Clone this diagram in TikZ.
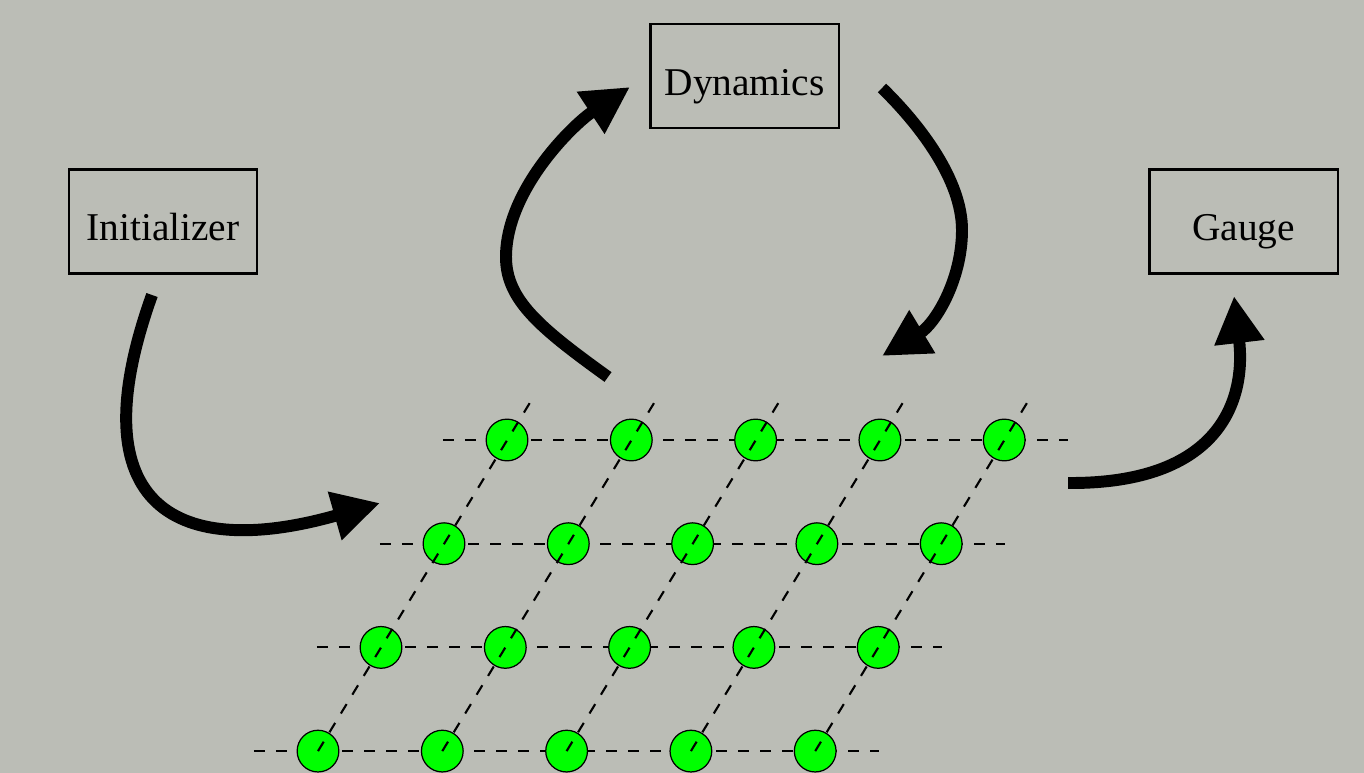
\documentclass[tikz,border=0pt]{standalone}
\usepackage{fontspec}
\setmainfont{Liberation Serif}
\usetikzlibrary{arrows.meta,calc}
\definecolor{bg}{RGB}{187,189,182}
\definecolor{dot}{RGB}{0,255,0}
\tikzset{
  box/.style={draw=black, line width=0.6pt, minimum width=1.88cm, minimum height=1.04cm, inner sep=0pt, text height=10.9pt, text depth=0pt, font=\fontsize{11.2}{13}\selectfont},
  site/.style={circle, draw=black, fill=dot, line width=0.35pt, minimum size=0.417cm, inner sep=0pt},
  gridline/.style={line width=0.6pt, dash pattern=on 3.13pt off 3.13pt},
  flow/.style={line width=3.4pt, -{Triangle[length=13.4pt,width=13.4pt]}}
}
\begin{document}
\begin{tikzpicture}[x=0.01cm, y=-0.01cm]
\fill[bg] (0,0) rectangle (1364,773);
\useasboundingbox (0,0) rectangle (1364,773);

% boxes
\node[box] (init) at (163,221.5) {Initializer};
\node[box] (dyn) at (744.5,76) {Dynamics};
\node[box] (gauge) at (1243.5,221.5) {Gauge};

% lattice coordinates
\foreach \r in {0,...,3} {
  \foreach \c in {0,...,4} {
    \coordinate (p-\r-\c) at ({507-63*\r+124.3*\c},{440+103.7*\r});
  }
}
% horizontal dashed lines (under sites)
\foreach \r in {0,...,3} {
  \draw[gridline] ([xshift=-0.64cm]p-\r-0) -- ([xshift=0.64cm]p-\r-4);
}
% sites
\foreach \r in {0,...,3} {
  \foreach \c in {0,...,4} {
    \node[site] (s-\r-\c) at (p-\r-\c) {};
  }
}
% diagonal dashed lines (over sites)
\foreach \c in {0,...,4} {
  \coordinate (top-\c) at ($(p-0-\c)+(27,-44)$);
  \draw[gridline] (p-3-\c) -- (top-\c);
}

% arrow end points
\coordinate (a1s) at (152,295);
\coordinate (a1e) at (380,503);
\coordinate (a2s) at (608,377);
\coordinate (a2m) at (506,257);
\coordinate (a2e) at (630,87);
\coordinate (a3s) at (882,88);
\coordinate (a3m) at (962,230);
\coordinate (a3e) at (882,356);
\coordinate (a4s) at (1068,483);
\coordinate (a4e) at (1234,296);

\draw[flow] (a1s) .. controls (75,510) and (180,560) .. (a1e);
\draw[flow] (a2s) .. controls (540,328) and (506,300) .. (a2m)
               .. controls (506,190) and (573,124.5) .. (a2e);
\draw[flow] (a3s) .. controls (920,125) and (962,180) .. (a3m)
               .. controls (962,280) and (935,324) .. (a3e);
\draw[flow] (a4s) .. controls (1220,484) and (1246,400) .. (a4e);
\end{tikzpicture}
\end{document}
